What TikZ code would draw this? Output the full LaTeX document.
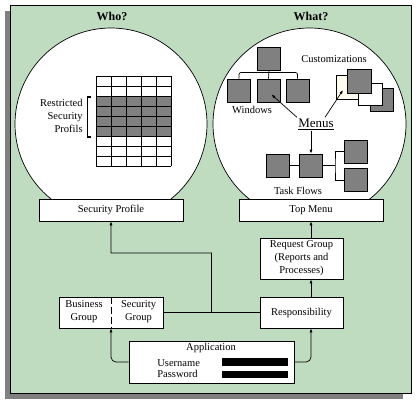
\documentclass[tikz,border=0pt]{standalone}
\usepackage{fontspec}
\setmainfont{Liberation Serif}
\usepackage{xcolor}
\usetikzlibrary{positioning,calc}
\usetikzlibrary{arrows.meta}
\definecolor{bggreen}{RGB}{192,220,192}
\definecolor{shadowgray}{RGB}{128,128,128}
\definecolor{sqgray}{RGB}{128,128,128}
\definecolor{cream}{RGB}{255,251,238}

\begin{document}
\begin{tikzpicture}[x=1pt,y=-1pt,line width=0.7pt,>={Latex[length=4pt,width=3pt]},
    txt/.style={font=\fontsize{10.5}{13}\selectfont, inner sep=0pt},
    box/.style={draw, fill=white, inner sep=0pt, align=center, font=\fontsize{10.5}{13}\selectfont},
    sq/.style={draw, fill=sqgray, minimum size=23pt, inner sep=0pt},
    head/.style={font=\fontsize{12}{14}\selectfont\bfseries, inner sep=0pt}]
        \useasboundingbox (0,0) rectangle (419,405);
        \fill[shadowgray] (5,11) rectangle (403,399);
        \draw[fill=bggreen, line width=0.9pt] (10,5) rectangle (411,393);

        % the two bubbles
        \draw[fill=white] (111,124) ellipse [x radius=96pt, y radius=96pt];
        \draw[fill=white] (309.5,124) ellipse [x radius=96.5pt, y radius=96pt];
        \node[head] (who) at (112,16) {Who?};
        \node[head] (what) at (311,16) {What?};

        % profile table
        \fill[sqgray] (96,96) rectangle (171,136);
        \foreach \i in {0,...,5} \draw (96+15*\i,76) -- (96+15*\i,166);
        \foreach \j in {0,...,9} \draw (96,76+10*\j) -- (171,76+10*\j);
        \draw[line width=1.3pt] (91,97) -- (87.5,97) -- (87.5,137) -- (91,137);
        \node[txt, align=right, anchor=east] (restr) at (83,115.5) {Restricted\\Security\\Profils};

        % windows tree
        \node[sq] (wtop) at (269,58.5) {};
        \node[sq] (win1) at (239,90.5) {};
        \node[sq] (win2) at (268.5,90.5) {};
        \node[sq] (win3) at (297.5,90.5) {};
        \coordinate (wbar) at (269,72.5);
        \draw[rounded corners=2pt] (win1.north) |- (wbar) -| (win3.north);
        \draw (wtop.south) -- (win2.north);
        \node[txt] (windows) at (252,110) {Windows};

        % customizations stack
        \node[sq] (cback) at (382,100) {};
        \node[draw, fill=white, minimum width=24pt, minimum height=22pt, inner sep=0pt] (cwhite) at (370,94) {};
        \node[draw, fill=cream, minimum width=22pt, minimum height=24pt, inner sep=0pt] (ccream) at (347,87) {};
        \node[sq, minimum size=24pt] (cfront) at (359,81) {};
        \node[txt] (custom) at (334,59) {Customizations};

        % task flows
        \node[sq] (tf1) at (278,165.5) {};
        \node[sq] (tf2) at (311,165.5) {};
        \node[sq] (tf3) at (355.5,151.5) {};
        \node[sq] (tf4) at (355.5,180) {};
        \coordinate (tfbar) at (335,165.5);
        \draw (tf1) -- (tf2);
        \draw (tf2) -- (tfbar);
        \draw (tf3.west) -| (tfbar) |- (tf4.west);
        \node[txt] (taskflows) at (298,191) {Task Flows};

        % menus
        \node[font=\fontsize{13}{15}\selectfont, inner sep=1pt] (menus) at (316,124) {\underline{Menus}};
        \draw[->] (menus.north west) -- ($(win2.center)+(3,4)$);
        \draw[->] ([xshift=9pt]menus.north) -- ($(ccream.center)+(-4,3)$);
        \draw[->] (menus.south -| tf2.north) -- (tf2.north);

        % boxes
        \node[box, minimum width=144pt, minimum height=22pt] (secprof) at (111,210) {Security Profile};
        \node[box, minimum width=144pt, minimum height=22pt] (topmenu) at (311,210) {Top Menu};
        \node[box, minimum width=83pt, minimum height=41pt] (reqgrp) at (301.5,258.5) {Request Group\\(Reports and\\Processes)};
        \node[box, minimum width=83pt, minimum height=31pt] (resp) at (301.5,312.5) {Responsibility};
        \node[box, minimum width=104pt, minimum height=31pt] (bizgrp) at (111,312.5) {};
        \node[txt, align=center] (biz) at (84,311.5) {Business\\Group};
        \node[txt, align=center] (secgrp) at (138.5,311.5) {Security\\Group};
        \draw[dash pattern=on 7pt off 3pt] (bizgrp.north) -- (bizgrp.south);

        \node[box, minimum width=165pt, minimum height=42pt] (app) at (211.5,362) {};
        \node[txt] (apptitle) at (211,348) {Application};
        \node[txt, anchor=base west] (user) at (157,366) {Username};
        \node[txt, anchor=base west] (pass) at (157,377.5) {Password};
        \node[fill=black, minimum width=66pt, minimum height=8pt, inner sep=0pt] (userbar) at (255,362) {};
        \node[fill=black, minimum width=66pt, minimum height=7.5pt, inner sep=0pt] (passbar) at (255,374.5) {};

        % connectors
        \coordinate (jn) at ($(bizgrp.east)!0.5!(resp.west)$);
        \coordinate (jtop) at (211.5,253);
        \draw (bizgrp.east) -- (resp.west);
        \draw[->] (jn) -- (jtop) -| (secprof.south);
        \draw[->] (resp.north -| topmenu.south) -- (reqgrp.south -| topmenu.south);
        \draw[->] (reqgrp.north -| topmenu.south) -- (topmenu.south);
        \draw[->, rounded corners=5pt] (app.west) -| (bizgrp.south);
        \draw[->, rounded corners=5pt] (app.east) -| (resp.south -| topmenu.south);
    \end{tikzpicture}
\end{document}
